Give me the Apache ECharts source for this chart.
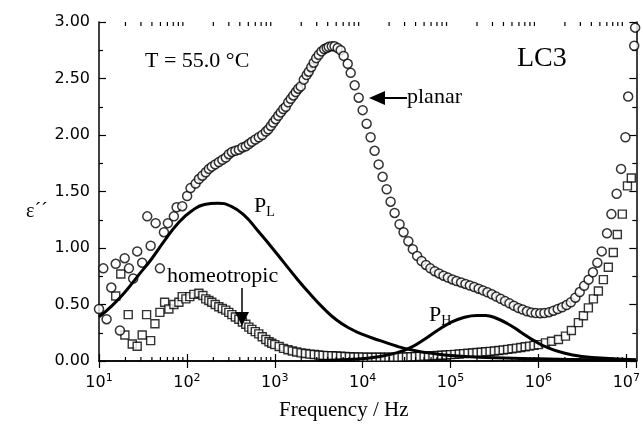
<!DOCTYPE html>
<html>
<head>
<meta charset="utf-8">
<script src="https://cdn.jsdelivr.net/npm/echarts@6/dist/echarts.min.js"></script>
<style>html,body{margin:0;padding:0;background:#fff}#c{width:643px;height:435px}</style>
</head>
<body>
<div id="c"></div>
<script>
// ---- data (frequency in Hz, dielectric loss ε'') ----
const planarFreq = [10.0,11.2,12.2,13.8,15.5,17.3,19.6,21.9,24.5,27.2,31.0,35.4,38.7,44.1,49.3,54.8,60.8,71.1,76.4,88.5,100.7,110,125.6,137,150,164,178,192,210,231,253,277,300,325,356,390,428,468,507,548,600,658,720,791,845,902,960,1026,1095,1169,1250,1334,1425,1520,1625,1733,1850,1974,2137,2300,2434,2600,2774,2960,3162,3400,3650,3900,4110,4450,4786,5200,5623,6085,6761,7311,8110,9016,10000,11100,12310,13670,15200,16870,18750,20800,23100,26300,29200,33100,37200,41700,46800,52500,58900,66100,74100,83200,93300,1.05e5,1.17e5,1.32e5,1.48e5,1.66e5,1.86e5,2.09e5,2.34e5,2.63e5,2.95e5,3.31e5,3.72e5,4.17e5,4.68e5,5.25e5,5.89e5,6.61e5,7.41e5,8.32e5,9.33e5,1.05e6,1.17e6,1.32e6,1.48e6,1.66e6,1.86e6,2.09e6,2.34e6,2.63e6,2.95e6,3.31e6,3.72e6,4.17e6,4.68e6,5.25e6,6.03e6,6.76e6,7.76e6,8.71e6,9.77e6,1.05e7,1.23e7,1.26e7];
const planarEps = [0.46,0.82,0.37,0.65,0.86,0.27,0.91,0.82,0.73,0.97,0.87,1.28,1.02,1.22,0.82,1.14,1.22,1.28,1.36,1.37,1.46,1.53,1.57,1.61,1.64,1.67,1.70,1.72,1.74,1.76,1.78,1.80,1.83,1.85,1.86,1.87,1.89,1.90,1.92,1.94,1.96,1.98,2.00,2.03,2.05,2.08,2.11,2.14,2.17,2.20,2.23,2.25,2.29,2.32,2.35,2.38,2.41,2.43,2.49,2.53,2.56,2.60,2.64,2.68,2.71,2.74,2.76,2.77,2.78,2.785,2.785,2.77,2.75,2.70,2.63,2.55,2.44,2.33,2.22,2.10,1.98,1.86,1.74,1.63,1.52,1.41,1.31,1.21,1.14,1.06,0.99,0.93,0.885,0.85,0.82,0.795,0.775,0.755,0.738,0.722,0.708,0.695,0.682,0.668,0.655,0.64,0.625,0.608,0.59,0.57,0.55,0.53,0.51,0.49,0.47,0.455,0.44,0.43,0.424,0.422,0.425,0.432,0.445,0.46,0.475,0.495,0.52,0.56,0.61,0.665,0.72,0.785,0.87,0.97,1.13,1.30,1.48,1.70,1.98,2.34,2.79,2.95];

const homeoFreq = [15.5,17.7,19.7,21.5,23.9,27.2,31.0,34.8,38.7,43.3,49.3,55.8,62.4,71.1,81.1,88.5,97.5,108,120,137,152,164,178,192,210,231,253,277,300,325,356,390,428,468,507,548,600,658,720,791,860,925,1000,1122,1259,1413,1585,1778,1995,2239,2512,2818,3162,3548,3981,4467,5012,5623,6310,7079,7943,8913,10000,11220,12590,14130,15850,17780,19950,22390,25120,28180,31620,35480,39810,44670,50120,56230,63100,70790,79430,89130,1.0e5,1.12e5,1.26e5,1.41e5,1.58e5,1.78e5,2.0e5,2.24e5,2.51e5,2.82e5,3.16e5,3.55e5,3.98e5,4.47e5,5.01e5,5.62e5,6.31e5,7.08e5,7.94e5,8.91e5,1.0e6,1.2e6,1.41e6,1.69e6,2.03e6,2.37e6,2.85e6,3.25e6,3.7e6,4.22e6,4.81e6,5.48e6,6.24e6,7.11e6,7.9e6,9.0e6,1.03e7,1.14e7];
const homeoEps = [0.575,0.77,0.23,0.41,0.15,0.13,0.23,0.41,0.18,0.33,0.43,0.52,0.46,0.50,0.52,0.57,0.55,0.57,0.59,0.60,0.58,0.55,0.535,0.52,0.50,0.48,0.465,0.45,0.43,0.41,0.39,0.37,0.345,0.325,0.30,0.28,0.26,0.24,0.215,0.19,0.17,0.157,0.145,0.128,0.112,0.099,0.088,0.079,0.072,0.066,0.061,0.057,0.053,0.050,0.048,0.046,0.044,0.042,0.040,0.038,0.036,0.035,0.034,0.0335,0.033,0.033,0.033,0.033,0.033,0.0335,0.034,0.035,0.036,0.0375,0.039,0.041,0.043,0.045,0.047,0.049,0.051,0.053,0.056,0.059,0.062,0.065,0.068,0.071,0.075,0.078,0.082,0.085,0.089,0.093,0.098,0.103,0.108,0.114,0.12,0.126,0.132,0.138,0.145,0.16,0.175,0.19,0.22,0.27,0.34,0.40,0.47,0.55,0.62,0.72,0.83,0.96,1.12,1.30,1.55,1.62];

const plFreq = [10,14.1,20.0,28.2,39.8,56.2,79.4,112,158,224,316,447,631,891,1259,1778,2512,3548,5012,7079,10000,15850,25120,39810,63100,1e5,2.51e5,1e6,5.01e6,1.29e7];
const plEps  = [0.39,0.49,0.615,0.76,0.905,1.07,1.22,1.325,1.385,1.397,1.37,1.29,1.16,1.02,0.875,0.73,0.595,0.47,0.365,0.29,0.235,0.18,0.128,0.09,0.066,0.048,0.032,0.02,0.01,0.007];

const phFreq = [3160,7940,15800,25100,35500,50100,70800,1e5,1.41e5,2.0e5,2.51e5,3.16e5,4.47e5,6.31e5,8.91e5,1.26e6,2.0e6,3.16e6,6.31e6,1.29e7];
const phEps  = [0.005,0.015,0.04,0.075,0.12,0.19,0.27,0.34,0.385,0.403,0.402,0.385,0.33,0.255,0.18,0.12,0.068,0.04,0.022,0.012];

const yTicks = { min: 0, max: 3, interval: 0.5 };
const xRange = { min: 10, max: 1.3e7 };

// minor tick values of the log axis (2..9 × 10^k)
const minorTickVals = [];
for (let k = 1; k <= 7; k++) for (let m = 2; m <= 9; m++) {
  const v = m * Math.pow(10, k);
  if (v < xRange.max) minorTickVals.push([v, 0]);
}

const zip = (a, b) => a.map((x, i) => [x, b[i]]);
const SERIF = '"Liberation Serif","Times New Roman",serif';
const SANS = '"DejaVu Sans",sans-serif';

const chart = echarts.init(document.getElementById('c'), null, { renderer: 'canvas' });
const axisLine = { show: true, lineStyle: { color: '#000', width: 1.5 } };
const tick = { show: true, inside: true, length: 7, lineStyle: { color: '#000', width: 1.2 } };

chart.setOption({
  animation: false,
  backgroundColor: '#fff',
  grid: { left: 99, right: 5, top: 22, bottom: 74 },
  xAxis: [{
    type: 'log', logBase: 10, min: xRange.min, max: xRange.max, position: 'bottom',
    axisLine, splitLine: { show: false }, axisTick: tick,
    axisLabel: {
      margin: 12, color: '#000',
      formatter: v => '{b|10}{s|' + Math.round(Math.log10(v)) + '}',
      rich: {
        b: { fontSize: 16, fontFamily: SANS, color: '#000', lineHeight: 20 },
        s: { fontSize: 11, fontFamily: SANS, color: '#000', lineHeight: 20, verticalAlign: 'top' }
      }
    }
  }, {
    type: 'log', logBase: 10, min: xRange.min, max: xRange.max, position: 'top',
    axisLine, splitLine: { show: false }, axisTick: tick,
    axisLabel: { show: false }
  }],
  yAxis: [{
    type: 'value', min: yTicks.min, max: yTicks.max, interval: yTicks.interval, position: 'left',
    axisLine, splitLine: { show: false }, axisTick: tick,
    minorTick: { show: true, splitNumber: 2, length: 4, lineStyle: { color: '#000', width: 1.2 } },
    axisLabel: { margin: 9, color: '#000', fontSize: 16, fontFamily: SANS, formatter: v => v.toFixed(2) }
  }, {
    type: 'value', min: yTicks.min, max: yTicks.max, interval: yTicks.interval, position: 'right',
    axisLine, splitLine: { show: false }, axisTick: tick,
    minorTick: { show: true, splitNumber: 2, length: 4, lineStyle: { color: '#000', width: 1.2 } },
    axisLabel: { show: false }
  }],
  series: [
    {
      type: 'custom', name: 'minorTicks', silent: true, clip: false, z: 5,
      data: minorTickVals,
      renderItem: (params, api) => {
        const v = api.value(0);
        const b = api.coord([v, yTicks.min]);
        const t = api.coord([v, yTicks.max]);
        const st = { stroke: '#000', lineWidth: 1.2 };
        return { type: 'group', children: [
          { type: 'line', shape: { x1: b[0], y1: b[1], x2: b[0], y2: b[1] - 4 }, style: st },
          { type: 'line', shape: { x1: t[0], y1: t[1], x2: t[0], y2: t[1] + 4 }, style: st }
        ]};
      }
    },
    {
      type: 'scatter', name: 'homeotropic', data: zip(homeoFreq, homeoEps),
      symbol: 'rect', symbolSize: 8, z: 2,
      itemStyle: { color: '#fff', borderColor: '#000', borderWidth: 1.4 }
    },
    {
      type: 'scatter', name: 'planar', data: zip(planarFreq, planarEps),
      symbol: 'circle', symbolSize: 9, z: 3,
      itemStyle: { color: '#fff', borderColor: '#000', borderWidth: 1.5 }
    },
    {
      type: 'line', name: 'PL', data: zip(plFreq, plEps), smooth: 0.5, showSymbol: false, z: 4,
      lineStyle: { color: '#000', width: 3 }
    },
    {
      type: 'line', name: 'PH', data: zip(phFreq, phEps), smooth: 0.5, showSymbol: false, z: 4,
      lineStyle: { color: '#000', width: 3 }
    }
  ],
  graphic: [
    { type: 'text', z: 100, left: 145, top: 50, style: { text: 'T = 55.0 °C', font: '22px ' + SERIF, fill: '#000' } },
    { type: 'text', z: 100, left: 517, top: 45, style: { text: 'LC3', font: '28px ' + SERIF, fill: '#000' } },
    { type: 'text', z: 100, left: 407, top: 86, style: { text: 'planar', font: '22px ' + SERIF, fill: '#000' } },
    { type: 'line', z: 100, shape: { x1: 383, y1: 98, x2: 407, y2: 98 }, style: { stroke: '#000', lineWidth: 2 } },
    { type: 'polygon', z: 100, shape: { points: [[369, 98], [385, 91], [385, 105]] }, style: { fill: '#000' } },
    { type: 'text', z: 100, left: 167, top: 265, style: { text: 'homeotropic', font: '22px ' + SERIF, fill: '#000' } },
    { type: 'line', z: 100, shape: { x1: 242, y1: 288, x2: 242, y2: 314 }, style: { stroke: '#000', lineWidth: 1.5 } },
    { type: 'polygon', z: 100, shape: { points: [[242, 326], [235, 312], [249, 312]] }, style: { fill: '#000' } },
    { type: 'text', z: 100, left: 254, top: 195, style: {
        text: '{a|P}{b|L}', rich: { a: { font: '22px ' + SERIF, fill: '#000', verticalAlign: 'top', lineHeight: 24 }, b: { font: '14px ' + SERIF, fill: '#000', verticalAlign: 'bottom', lineHeight: 24 } } } },
    { type: 'text', z: 100, left: 429, top: 304, style: {
        text: '{a|P}{b|H}', rich: { a: { font: '22px ' + SERIF, fill: '#000', verticalAlign: 'top', lineHeight: 24 }, b: { font: '14px ' + SERIF, fill: '#000', verticalAlign: 'bottom', lineHeight: 24 } } } },
    { type: 'text', z: 100, left: 26, top: 202, style: { text: 'ε´´', font: '20px ' + SERIF, fill: '#000' } },
    { type: 'text', z: 100, left: 279, top: 400, style: { text: 'Frequency / Hz', font: '21px ' + SERIF, fill: '#000' } }
  ]
});
</script>
</body>
</html>
